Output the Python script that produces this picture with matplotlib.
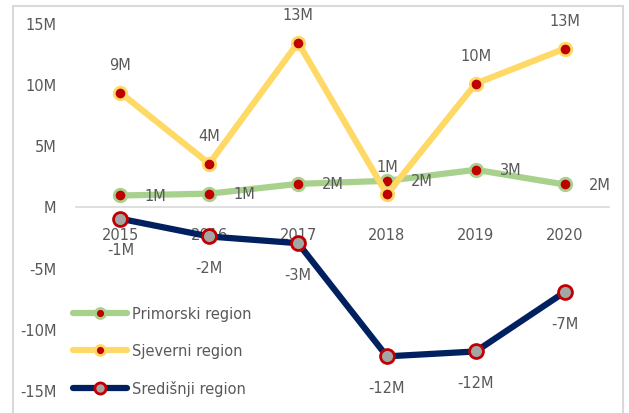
import matplotlib.pyplot as plt
from matplotlib.patches import Rectangle

# ---- data ----
years = ["2015", "2016", "2017", "2018", "2019", "2020"]
primorski = [0.9, 1.05, 1.85, 2.1, 3.0, 1.8]
sjeverni = [9.3, 3.5, 13.4, 1.0, 10.05, 12.9]
sredisnji = [-1.0, -2.45, -3.0, -12.25, -11.85, -7.0]
labels_primorski = ["1M", "1M", "2M", "2M", "3M", "2M"]
labels_sjeverni = ["9M", "4M", "13M", "1M", "10M", "13M"]
labels_sredisnji = ["-1M", "-2M", "-3M", "-12M", "-12M", "-7M"]
y_ticks = [-15, -10, -5, 0, 5, 10, 15]
y_ticklabels = ["-15M", "-10M", "-5M", "M", "5M", "10M", "15M"]

TXT = "#595959"
GREEN = "#A9D18E"
YELLOW = "#FFD966"
NAVY = "#002060"
RED = "#C00000"
GREY = "#A5A5A5"

plt.rcParams["font.family"] = ["DejaVu Sans"]

fig = plt.figure(figsize=(6.29, 4.14), dpi=100)
fig.patches.append(Rectangle((13 / 629, -0.05), (623 - 13) / 629, 1 - 7 / 414 + 0.05,
                             transform=fig.transFigure, fill=False,
                             edgecolor="#D9D9D9", linewidth=1.5))

ax = fig.add_axes([76 / 629, 1 - 391 / 414, (609 - 76) / 629, (391 - 24) / 414])
x = list(range(len(years)))

ax.plot(x, primorski, color=GREEN, lw=4.5, marker="o", ms=9, mfc=RED, mec=GREEN,
        mew=2, label="Primorski region", solid_capstyle="round")
ax.plot(x, sjeverni, color=YELLOW, lw=4.5, marker="o", ms=9, mfc=RED, mec=YELLOW,
        mew=2, label="Sjeverni region", solid_capstyle="round")
ax.plot(x, sredisnji, color=NAVY, lw=4.5, marker="o", ms=10, mfc=GREY, mec=RED,
        mew=2, label="Središnji region", solid_capstyle="round")

fs = 10.5
for i in x:
    ax.annotate(labels_primorski[i], (i, primorski[i]), xytext=(35, 0),
                textcoords="offset pixels", ha="center", va="center",
                color=TXT, fontsize=fs)
    ax.annotate(labels_sjeverni[i], (i, sjeverni[i]), xytext=(0, 28),
                textcoords="offset pixels", ha="center", va="center",
                color=TXT, fontsize=fs)
    ax.annotate(labels_sredisnji[i], (i, sredisnji[i]), xytext=(0, -31),
                textcoords="offset pixels", ha="center", va="center",
                color=TXT, fontsize=fs)

ax.set_xlim(-0.5, len(years) - 0.5)
ax.set_ylim(-15, 15)
ax.set_yticks(y_ticks)
ax.set_yticklabels(y_ticklabels)
ax.set_xticks(x)
ax.set_xticklabels(years)
ax.tick_params(axis="y", length=0, pad=14, labelcolor=TXT, labelsize=fs)
ax.tick_params(axis="x", length=0, pad=15, labelcolor=TXT, labelsize=fs)

for s in ["top", "right", "left"]:
    ax.spines[s].set_visible(False)
ax.spines["bottom"].set_position(("data", 0))
ax.spines["bottom"].set_color("#D9D9D9")
ax.spines["bottom"].set_linewidth(1.2)
ax.spines["bottom"].set_zorder(0)

leg = ax.legend(loc="lower left", bbox_to_anchor=(-0.03, -0.052), frameon=False,
                fontsize=fs, handlelength=3.7, labelspacing=1.5, handletextpad=0.35,
                labelcolor=TXT, markerscale=0.8)

fig.savefig("out.png", dpi=100)
